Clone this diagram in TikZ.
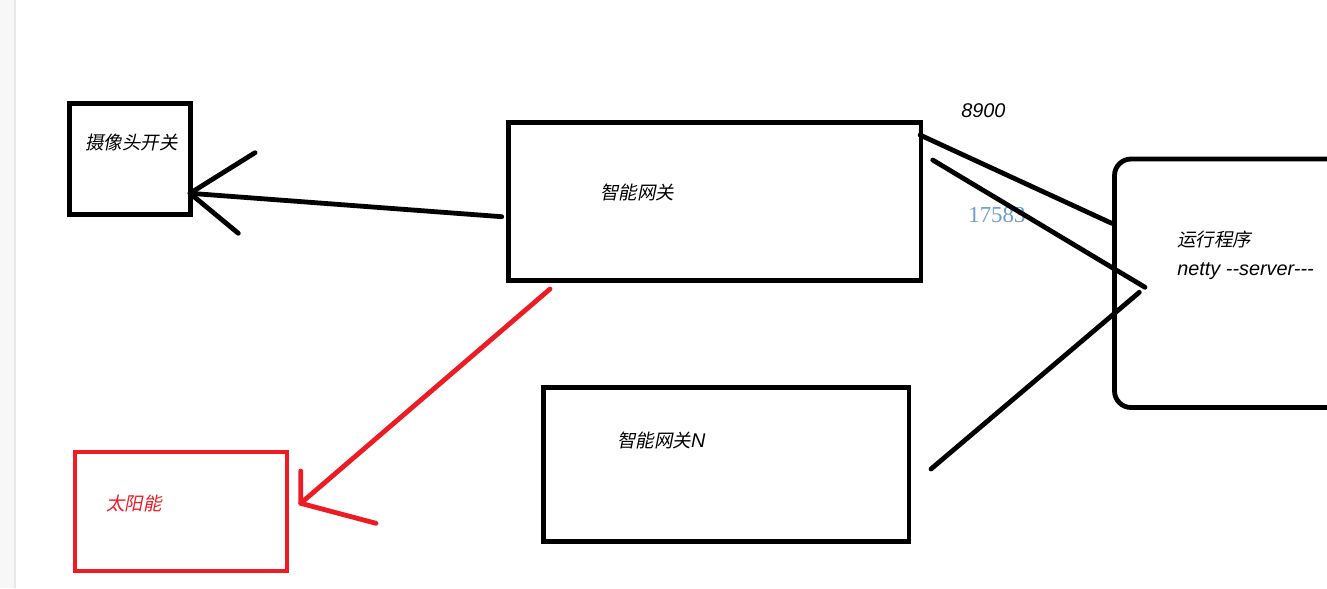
\documentclass[tikz,border=0pt]{standalone}
\usepackage{fontspec}
\newfontfamily\cjkit[FakeSlant=0.2]{Noto Sans CJK SC}
\newfontfamily\latit{Liberation Sans}[ItalicFont=* Italic]
\newfontfamily\numserif{Liberation Serif}
\definecolor{paintred}{HTML}{ED1C24}
\definecolor{portblue}{HTML}{6F9BD1}
\definecolor{sidebar}{HTML}{F7F7F7}
\definecolor{sideedge}{HTML}{E8E8E8}
\begin{document}
\begin{tikzpicture}[x=0.02cm,y=-0.02cm,
  stroke/.style={line width=0.096cm},
  box/.style={draw,stroke,inner sep=0pt,line join=miter},
  wire/.style={stroke,line cap=round,line join=round},
  cjklabel/.style={anchor=west,inner sep=0pt,font=\cjkit\fontsize{10.5pt}{12pt}\selectfont},
  latlabel/.style={anchor=west,inner sep=0pt,font=\latit\itshape\fontsize{11.3pt}{13pt}\selectfont},
  numlabel/.style={anchor=west,inner sep=0pt,text=portblue,font=\numserif\fontsize{13pt}{15pt}\selectfont}]

% page frame and left side bar
\useasboundingbox (0,0) rectangle (1327,588);
\clip (0,0) rectangle (1327,588);
\fill[white] (0,0) rectangle (1327,588);
\fill[sidebar] (0,0) rectangle (15,588);
\fill[sideedge] (14,0) rectangle (16,588);

% boxes
\node[box,minimum width=121*0.02cm,minimum height=111*0.02cm] (cam) at (130,159) {};
\node[box,minimum width=412.5*0.02cm,minimum height=158*0.02cm] (gw) at (714.75,201.5) {};
\node[box,minimum width=365.5*0.02cm,minimum height=154*0.02cm] (gwn) at (726.25,464.5) {};
\node[box,draw=paintred,minimum width=212*0.02cm,minimum height=119*0.02cm] (solar) at (181,511.5) {};
\node[box,rounded corners=0.33cm,minimum width=260*0.02cm,minimum height=248.5*0.02cm] (srv) at (1244.5,283.25) {};

% labels
\node[cjklabel] (camtxt) at (85,142.5) {摄像头开关};
\node[cjklabel] (gwtxt) at (600,192.5) {智能网关};
\node[cjklabel] (gwntxt) at (617,440.5) {智能网关{\latit\itshape\fontsize{11.3pt}{13pt}\selectfont N}};
\node[cjklabel,text=paintred] (solartxt) at (106,503.5) {太阳能};
\node[cjklabel] (srvtxt) at (1177,239) {运行程序};
\node[latlabel] (nettytxt) at (1177,271) {netty --server---};
\node[latlabel] (porta) at (961,111) {8900};
\node[numlabel] (portb) at (968,215) {17583};

% connector end points
\coordinate (camtip) at (190,193.3);
\coordinate (gwleft) at (501.7,216.7);
\coordinate (camheadA) at (255,152.7);
\coordinate (camheadB) at (238.3,233.3);
\coordinate (gwoutA) at (920,135);
\coordinate (srvinA) at (1111.7,223.3);
\coordinate (gwoutB) at (932.7,160);
\coordinate (srvinB) at (1145,287.3);
\coordinate (srvinC) at (1139.3,292.3);
\coordinate (gwnout) at (931,469);
\coordinate (gwbottom) at (550,289);
\coordinate (solartip) at (300.7,503.3);
\coordinate (solarheadA) at (300.7,471);
\coordinate (solarheadB) at (376,523.3);

% gateway to camera switch
\draw[wire] (gwleft) -- (camtip);
\draw[wire] (camheadA) -- (camtip) -- (camheadB);

% gateways to the server program
\draw[wire] (gwoutA) -- (srvinA);
\draw[wire] (gwoutB) -- (srvinB);
\draw[wire] (gwnout) -- (srvinC);

% gateway to solar unit
\draw[wire,paintred] (gwbottom) -- (solartip);
\draw[wire,paintred] (solarheadA) -- (solartip) -- (solarheadB);
\end{tikzpicture}
\end{document}
